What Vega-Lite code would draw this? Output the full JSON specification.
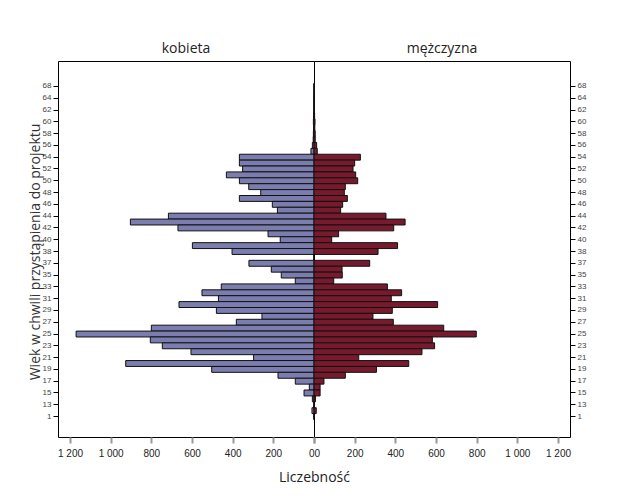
{
  "$schema": "https://vega.github.io/schema/vega-lite/v6.json",
  "padding": {"left": 27, "top": 41, "right": 5, "bottom": 5},
  "bounds": "flush",
  "background": "white",
  "datasets": {
    "pyramid": [
      {"wiek": "68", "plec": "kobieta", "n": 0}, {"wiek": "66", "plec": "kobieta", "n": 0},
      {"wiek": "64", "plec": "kobieta", "n": 1}, {"wiek": "63", "plec": "kobieta", "n": 1},
      {"wiek": "62", "plec": "kobieta", "n": 1}, {"wiek": "61", "plec": "kobieta", "n": 2},
      {"wiek": "60", "plec": "kobieta", "n": 3}, {"wiek": "59", "plec": "kobieta", "n": 2},
      {"wiek": "58", "plec": "kobieta", "n": 3}, {"wiek": "57", "plec": "kobieta", "n": 4},
      {"wiek": "56", "plec": "kobieta", "n": 8}, {"wiek": "55", "plec": "kobieta", "n": 15},
      {"wiek": "54", "plec": "kobieta", "n": 367}, {"wiek": "53", "plec": "kobieta", "n": 367},
      {"wiek": "52", "plec": "kobieta", "n": 351}, {"wiek": "51", "plec": "kobieta", "n": 431},
      {"wiek": "50", "plec": "kobieta", "n": 367}, {"wiek": "49", "plec": "kobieta", "n": 321},
      {"wiek": "48", "plec": "kobieta", "n": 262}, {"wiek": "47", "plec": "kobieta", "n": 367},
      {"wiek": "46", "plec": "kobieta", "n": 205}, {"wiek": "45", "plec": "kobieta", "n": 180},
      {"wiek": "44", "plec": "kobieta", "n": 716}, {"wiek": "43", "plec": "kobieta", "n": 903},
      {"wiek": "42", "plec": "kobieta", "n": 669}, {"wiek": "41", "plec": "kobieta", "n": 226},
      {"wiek": "40", "plec": "kobieta", "n": 166}, {"wiek": "39", "plec": "kobieta", "n": 598},
      {"wiek": "38", "plec": "kobieta", "n": 403}, {"wiek": "37,5", "plec": "kobieta", "n": 0},
      {"wiek": "37", "plec": "kobieta", "n": 320}, {"wiek": "36", "plec": "kobieta", "n": 210},
      {"wiek": "35", "plec": "kobieta", "n": 161}, {"wiek": "34", "plec": "kobieta", "n": 92},
      {"wiek": "33", "plec": "kobieta", "n": 456}, {"wiek": "32", "plec": "kobieta", "n": 551},
      {"wiek": "31", "plec": "kobieta", "n": 470}, {"wiek": "30", "plec": "kobieta", "n": 664},
      {"wiek": "29", "plec": "kobieta", "n": 480}, {"wiek": "28", "plec": "kobieta", "n": 256},
      {"wiek": "27", "plec": "kobieta", "n": 382}, {"wiek": "26", "plec": "kobieta", "n": 800},
      {"wiek": "25", "plec": "kobieta", "n": 1170}, {"wiek": "24", "plec": "kobieta", "n": 805},
      {"wiek": "23", "plec": "kobieta", "n": 746}, {"wiek": "22", "plec": "kobieta", "n": 605},
      {"wiek": "21", "plec": "kobieta", "n": 297}, {"wiek": "20", "plec": "kobieta", "n": 926},
      {"wiek": "19", "plec": "kobieta", "n": 503}, {"wiek": "18", "plec": "kobieta", "n": 177},
      {"wiek": "17", "plec": "kobieta", "n": 92}, {"wiek": "16", "plec": "kobieta", "n": 23},
      {"wiek": "15", "plec": "kobieta", "n": 49}, {"wiek": "14", "plec": "kobieta", "n": 8},
      {"wiek": "13", "plec": "kobieta", "n": 1}, {"wiek": "12", "plec": "kobieta", "n": 10},
      {"wiek": "1", "plec": "kobieta", "n": 0},
      {"wiek": "68", "plec": "mężczyzna", "n": 1}, {"wiek": "66", "plec": "mężczyzna", "n": 1},
      {"wiek": "64", "plec": "mężczyzna", "n": 1}, {"wiek": "63", "plec": "mężczyzna", "n": 2},
      {"wiek": "62", "plec": "mężczyzna", "n": 2}, {"wiek": "61", "plec": "mężczyzna", "n": 3},
      {"wiek": "60", "plec": "mężczyzna", "n": 5}, {"wiek": "59", "plec": "mężczyzna", "n": 4},
      {"wiek": "58", "plec": "mężczyzna", "n": 6}, {"wiek": "57", "plec": "mężczyzna", "n": 6},
      {"wiek": "56", "plec": "mężczyzna", "n": 13}, {"wiek": "55", "plec": "mężczyzna", "n": 16},
      {"wiek": "54", "plec": "mężczyzna", "n": 228}, {"wiek": "53", "plec": "mężczyzna", "n": 200},
      {"wiek": "52", "plec": "mężczyzna", "n": 192}, {"wiek": "51", "plec": "mężczyzna", "n": 205},
      {"wiek": "50", "plec": "mężczyzna", "n": 215}, {"wiek": "49", "plec": "mężczyzna", "n": 154},
      {"wiek": "48", "plec": "mężczyzna", "n": 149}, {"wiek": "47", "plec": "mężczyzna", "n": 164},
      {"wiek": "46", "plec": "mężczyzna", "n": 141}, {"wiek": "45", "plec": "mężczyzna", "n": 131},
      {"wiek": "44", "plec": "mężczyzna", "n": 354}, {"wiek": "43", "plec": "mężczyzna", "n": 448},
      {"wiek": "42", "plec": "mężczyzna", "n": 392}, {"wiek": "41", "plec": "mężczyzna", "n": 121},
      {"wiek": "40", "plec": "mężczyzna", "n": 87}, {"wiek": "39", "plec": "mężczyzna", "n": 411},
      {"wiek": "38", "plec": "mężczyzna", "n": 315}, {"wiek": "37,5", "plec": "mężczyzna", "n": 0},
      {"wiek": "37", "plec": "mężczyzna", "n": 274}, {"wiek": "36", "plec": "mężczyzna", "n": 138},
      {"wiek": "35", "plec": "mężczyzna", "n": 139}, {"wiek": "34", "plec": "mężczyzna", "n": 97},
      {"wiek": "33", "plec": "mężczyzna", "n": 361}, {"wiek": "32", "plec": "mężczyzna", "n": 431},
      {"wiek": "31", "plec": "mężczyzna", "n": 380}, {"wiek": "30", "plec": "mężczyzna", "n": 608},
      {"wiek": "29", "plec": "mężczyzna", "n": 385}, {"wiek": "28", "plec": "mężczyzna", "n": 290},
      {"wiek": "27", "plec": "mężczyzna", "n": 390}, {"wiek": "26", "plec": "mężczyzna", "n": 638},
      {"wiek": "25", "plec": "mężczyzna", "n": 798}, {"wiek": "24", "plec": "mężczyzna", "n": 582},
      {"wiek": "23", "plec": "mężczyzna", "n": 593}, {"wiek": "22", "plec": "mężczyzna", "n": 531},
      {"wiek": "21", "plec": "mężczyzna", "n": 220}, {"wiek": "20", "plec": "mężczyzna", "n": 466},
      {"wiek": "19", "plec": "mężczyzna", "n": 307}, {"wiek": "18", "plec": "mężczyzna", "n": 154},
      {"wiek": "17", "plec": "mężczyzna", "n": 49}, {"wiek": "16", "plec": "mężczyzna", "n": 30},
      {"wiek": "15", "plec": "mężczyzna", "n": 30}, {"wiek": "14", "plec": "mężczyzna", "n": 7},
      {"wiek": "13", "plec": "mężczyzna", "n": 1}, {"wiek": "12", "plec": "mężczyzna", "n": 11},
      {"wiek": "1", "plec": "mężczyzna", "n": 0}
    ]
  },
  "data": {"name": "pyramid"},
  "spacing": 0,
  "config": {
    "font": "Open Sans",
    "view": {"stroke": "#000000", "strokeWidth": 1},
    "axis": {"grid": false, "domain": false, "labelFont": "Liberation Sans", "titleFont": "Open Sans", "titleFontWeight": "normal"},
    "title": {"font": "Open Sans", "fontSize": 14, "fontWeight": "normal", "color": "#222222", "offset": 5}
  },
  "hconcat": [
    {
      "width": 256,
      "height": 376,
      "title": {"text": "kobieta", "anchor": "middle"},
      "transform": [{"filter": "datum.plec === 'kobieta'"}],
      "mark": {"type": "bar", "color": "#7b7daf", "stroke": "#111111", "strokeWidth": 1},
      "encoding": {
        "y": {
          "field": "wiek", "type": "ordinal",
          "sort": ["68","66","64","63","62","61","60","59","58","57","56","55","54","53","52","51","50","49","48","47","46","45","44","43","42","41","40","39","38","37,5","37","36","35","34","33","32","31","30","29","28","27","26","25","24","23","22","21","20","19","18","17","16","15","14","13","12","1"],
          "scale": {"paddingInner": 0, "paddingOuter": 0, "range": [22.5, 358.5]},
          "axis": {
            "orient": "left",
            "values": ["68","64","62","60","58","56","54","52","50","48","46","44","42","40","38","37","35","33","31","29","27","25","23","21","19","17","15","13","1"],
            "title": "Wiek w chwili przystąpienia do projektu",
            "titleFontSize": 14, "titleColor": "#333333", "titlePadding": 0,
            "labelFontSize": 8, "labelColor": "#444444",
            "tickColor": "#000000", "tickSize": 5, "labelPadding": 2
          }
        },
        "x": {
          "field": "n", "type": "quantitative",
          "scale": {"domain": [0, 1259], "reverse": true, "nice": false},
          "axis": {
            "values": [0,200,400,600,800,1000,1200],
            "labelExpr": "replace(format(datum.value, ','), ',', ' ')",
            "title": "Liczebność",
            "titleX": 256, "titleAlign": "center", "titleFontSize": 14, "titleColor": "#222222", "titlePadding": 12,
            "labelFontSize": 10, "labelColor": "#222222",
            "tickColor": "#999999", "tickWidth": 2, "tickSize": 6, "labelPadding": 5
          }
        }
      }
    },
    {
      "width": 256,
      "height": 376,
      "title": {"text": "mężczyzna", "anchor": "middle"},
      "transform": [{"filter": "datum.plec === 'mężczyzna'"}],
      "mark": {"type": "bar", "color": "#781a2e", "stroke": "#111111", "strokeWidth": 1},
      "encoding": {
        "y": {
          "field": "wiek", "type": "ordinal",
          "sort": ["68","66","64","63","62","61","60","59","58","57","56","55","54","53","52","51","50","49","48","47","46","45","44","43","42","41","40","39","38","37,5","37","36","35","34","33","32","31","30","29","28","27","26","25","24","23","22","21","20","19","18","17","16","15","14","13","12","1"],
          "scale": {"paddingInner": 0, "paddingOuter": 0, "range": [22.5, 358.5]},
          "axis": {
            "orient": "right",
            "values": ["68","64","62","60","58","56","54","52","50","48","46","44","42","40","38","37","35","33","31","29","27","25","23","21","19","17","15","13","1"],
            "title": null,
            "labelFontSize": 8, "labelColor": "#444444",
            "tickColor": "#000000", "tickSize": 5, "labelPadding": 2
          }
        },
        "x": {
          "field": "n", "type": "quantitative",
          "scale": {"domain": [0, 1259], "nice": false},
          "axis": {
            "values": [0,200,400,600,800,1000,1200],
            "labelExpr": "replace(format(datum.value, ','), ',', ' ')",
            "title": null,
            "labelFontSize": 10, "labelColor": "#222222",
            "tickColor": "#999999", "tickWidth": 2, "tickSize": 6, "labelPadding": 5
          }
        }
      }
    }
  ]
}
